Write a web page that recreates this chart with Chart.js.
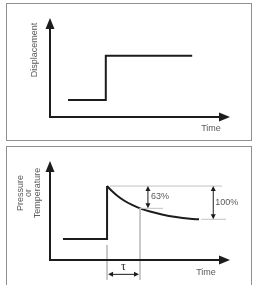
<!DOCTYPE html>
<html><head><meta charset="utf-8">
<script src="https://cdn.jsdelivr.net/npm/chart.js@4"></script>
<style>
html,body{margin:0;padding:0;background:#fff;width:254px;height:285px;overflow:hidden;}
.panel{position:absolute;border:1px solid #8f8f8f;box-sizing:border-box;}
canvas{position:absolute;left:0;}
</style></head>
<body>
<div class="panel" style="left:6px;top:3px;width:246px;height:138px;"></div>
<div class="panel" style="left:6px;top:146px;width:246px;height:145px;border-bottom:none;"></div>
<canvas id="c1" width="254" height="141" style="top:0px"></canvas>
<canvas id="c2" width="254" height="142" style="top:143px"></canvas>
<script>
// ---- data (arbitrary units; axes run 0..10) ----
const topTime = [1.0, 3.1, 3.1, 7.9];
const topDisp = [1.72, 1.72, 6.19, 6.19];
const stepTime = [0.72, 3.17, 3.17];
const stepVal = [2.12, 2.12, 7.47];
const curveTime = [3.17, 3.44, 3.72, 4.11, 4.56, 5.0, 5.56, 6.22, 7.0, 7.78, 8.28];
const curveVal  = [7.47, 6.97, 6.52, 6.01, 5.56, 5.22, 4.90, 4.60, 4.34, 4.17, 4.11];
const tauIndex = 5;
const xTitle = 'Time';
const topYTitle = ['Displacement'];
const botYTitle = ['Pressure', 'or', 'Temperature'];
const pctLabels = ['63%', '100%'];
const tauLabel = 'τ';

const pts = (xs, ys) => xs.map((x, i) => ({x, y: ys[i]}));
const INK = '#1c1c1c', GUIDE = '#c2c2c2', TXT = '#5a5a5a';
const FONT = '9px "Liberation Sans", Arial, sans-serif';

function arrowHead(ctx, x, y, dx, dy, len, hw) {
  const px = -dy, py = dx;
  ctx.beginPath();
  ctx.moveTo(x, y);
  ctx.lineTo(x - dx*len + px*hw, y - dy*len + py*hw);
  ctx.lineTo(x - dx*len - px*hw, y - dy*len - py*hw);
  ctx.closePath();
  ctx.fill();
}
function dblArrow(ctx, x1, y1, x2, y2) {
  const L = Math.hypot(x2-x1, y2-y1), dx = (x2-x1)/L, dy = (y2-y1)/L;
  ctx.beginPath(); ctx.moveTo(x1+dx*3, y1+dy*3); ctx.lineTo(x2-dx*3, y2-dy*3); ctx.stroke();
  arrowHead(ctx, x2, y2, dx, dy, 5, 2.5);
  arrowHead(ctx, x1, y1, -dx, -dy, 5, 2.5);
}
function drawAxes(chart, titleLines, titleX, titleY, timeX, timeY) {
  const {ctx, scales:{x, y}} = chart;
  const ox = x.getPixelForValue(0), oy = y.getPixelForValue(0);
  const tx = x.getPixelForValue(10), ty = y.getPixelForValue(10);
  ctx.save();
  ctx.strokeStyle = INK; ctx.fillStyle = INK; ctx.lineWidth = 2;
  ctx.beginPath(); ctx.moveTo(ox, oy + 1); ctx.lineTo(ox, ty + 8); ctx.stroke();
  ctx.beginPath(); ctx.moveTo(ox - 1, oy); ctx.lineTo(tx - 8, oy); ctx.stroke();
  arrowHead(ctx, ox, ty, 0, -1, 11, 4.5);
  arrowHead(ctx, tx, oy, 1, 0, 11, 4.5);
  ctx.fillStyle = TXT; ctx.font = FONT; ctx.textAlign = 'center'; ctx.textBaseline = 'middle';
  ctx.fillText(xTitle, timeX, timeY);
  ctx.save();
  ctx.translate(titleX, titleY); ctx.rotate(-Math.PI/2);
  const n = titleLines.length;
  titleLines.forEach((t, i) => ctx.fillText(t, 0, (i - (n-1)/2) * 8.5));
  ctx.restore();
  ctx.restore();
}
const baseOpts = (bottomPad) => ({
  responsive: false, animation: false, devicePixelRatio: 1,
  layout: {padding: {left: 50, right: 24, top: 18, bottom: bottomPad}},
  plugins: {legend: {display: false}, tooltip: {enabled: false}},
  scales: {
    x: {type: 'linear', min: 0, max: 10, display: false},
    y: {type: 'linear', min: 0, max: 10, display: false}
  },
  elements: {point: {radius: 0}}
});
const lineDs = (data, extra) => Object.assign({data, showLine: true, borderColor: INK, borderWidth: 2,
  pointRadius: 0, fill: false, clip: false, borderJoinStyle: 'miter', borderCapStyle: 'butt'}, extra || {});

new Chart(document.getElementById('c1'), {
  type: 'scatter',
  data: {datasets: [lineDs(pts(topTime, topDisp))]},
  options: baseOpts(24),
  plugins: [{id: 'axes1', afterDraw(chart) { drawAxes(chart, topYTitle, 35, 50, 211, 129); }}]
});

const peak = curveVal[0], fin = curveVal[curveVal.length-1];
const tauT = curveTime[tauIndex], tauV = curveVal[tauIndex], t0 = curveTime[0];
const guides = [
  pts([3.33, 9.56], [peak, peak]),
  pts([tauT, 6.28], [tauV, tauV]),
  pts([8.40, 9.78], [fin, fin]),
  pts([t0, t0], [1.52, -2.0]),
  pts([tauT, tauT], [tauV, -2.0])
];
new Chart(document.getElementById('c2'), {
  type: 'scatter',
  data: {datasets: [
    ...guides.map(g => lineDs(g, {borderColor: GUIDE, borderWidth: 1})),
    lineDs(pts(stepTime, stepVal)),
    lineDs(pts(curveTime, curveVal), {cubicInterpolationMode: 'monotone'})
  ]},
  options: baseOpts(25),
  plugins: [{id: 'axes2', afterDraw(chart) {
    drawAxes(chart, botYTitle, 29, 50, 206, 130);
    const {ctx, scales:{x, y}} = chart;
    ctx.save();
    ctx.strokeStyle = INK; ctx.fillStyle = INK; ctx.lineWidth = 1;
    const a63 = x.getPixelForValue(5.44), a100 = x.getPixelForValue(9.07);
    dblArrow(ctx, a63, y.getPixelForValue(peak), a63, y.getPixelForValue(tauV));
    dblArrow(ctx, a100, y.getPixelForValue(peak), a100, y.getPixelForValue(fin));
    const ty = y.getPixelForValue(-1.45);
    dblArrow(ctx, x.getPixelForValue(t0) + 1, ty, x.getPixelForValue(tauT) - 1, ty);
    ctx.fillStyle = TXT; ctx.font = FONT; ctx.textAlign = 'left'; ctx.textBaseline = 'middle';
    ctx.fillText(pctLabels[0], a63 + 3, y.getPixelForValue((peak + tauV)/2) - 1);
    ctx.fillText(pctLabels[1], a100 + 2, y.getPixelForValue((peak + fin)/2));
    ctx.fillStyle = '#2a2a2a'; ctx.font = '12px "Liberation Serif", "DejaVu Serif", serif'; ctx.textAlign = 'center';
    ctx.fillText(tauLabel, (x.getPixelForValue(t0) + x.getPixelForValue(tauT))/2, ty - 8);
    ctx.restore();
  }}]
});
</script>
</body></html>
